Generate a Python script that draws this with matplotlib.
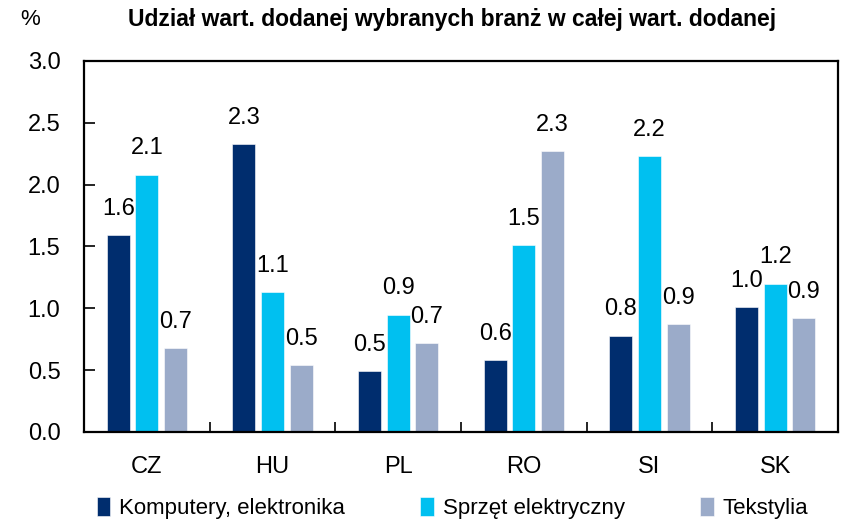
import numpy as np
import matplotlib.pyplot as plt
from matplotlib.ticker import MultipleLocator, FixedLocator

plt.rcParams['font.family'] = ['Liberation Sans', 'DejaVu Sans']

# Dane
countries = ['CZ', 'HU', 'PL', 'RO', 'SI', 'SK']
komputery = [1.59, 2.33, 0.49, 0.58, 0.78, 1.01]
sprzet = [2.08, 1.13, 0.95, 1.51, 2.23, 1.20]
tekstylia = [0.68, 0.54, 0.72, 2.27, 0.87, 0.92]
series_names = ['Komputery, elektronika', 'Sprzęt elektryczny', 'Tekstylia']
colors = ['#002D6E', '#00C0F0', '#9BABC9']

fig = plt.figure(figsize=(8.41, 5.24), dpi=100)
ax = fig.add_axes([0.0999, 0.1756, 0.8965, 0.708])

x = np.arange(len(countries))
offset = 0.227
width = 0.183
for i, (vals, name, c) in enumerate(zip([komputery, sprzet, tekstylia], series_names, colors)):
    pos = x + (i - 1) * offset
    ax.bar(pos, vals, width, color=c, label=name, edgecolor='white', linewidth=0.4)
    for xp, v in zip(pos, vals):
        ax.annotate(f'{v:.1f}', (xp, v), textcoords='offset points', xytext=(0, 11),
                    ha='center', va='bottom', fontsize=17)

ax.set_xlim(-0.5, len(countries) - 0.5)
ax.set_ylim(0, 3.0)
ax.yaxis.set_major_locator(MultipleLocator(0.5))
ax.yaxis.set_major_formatter(plt.FuncFormatter(lambda v, p: f'{v:.1f}'))
ax.tick_params(axis='y', direction='in', length=8, width=1.2, labelsize=17, pad=17)

ax.set_xticks(x)
ax.set_xticklabels(countries)
ax.tick_params(axis='x', which='major', length=0, labelsize=17, pad=17)
ax.xaxis.set_minor_locator(FixedLocator(np.arange(0.5, len(countries) - 1, 1)))
ax.tick_params(axis='x', which='minor', direction='in', length=7, width=1.2)

for s in ax.spines.values():
    s.set_linewidth(1.6)

fig.text(0.036, 0.962, '%', fontsize=16, ha='center', va='center')
fig.text(0.538, 0.962, 'Udział wart. dodanej wybranych branż w całej wart. dodanej',
         fontsize=16.5, fontweight='bold', ha='center', va='center')

fig.legend(loc='center', bbox_to_anchor=(0.538, 0.03), ncol=3, frameon=False,
           fontsize=16, handlelength=0.6, handleheight=0.9, handletextpad=0.4,
           columnspacing=3.4)

fig.savefig('out.png', dpi=100)
